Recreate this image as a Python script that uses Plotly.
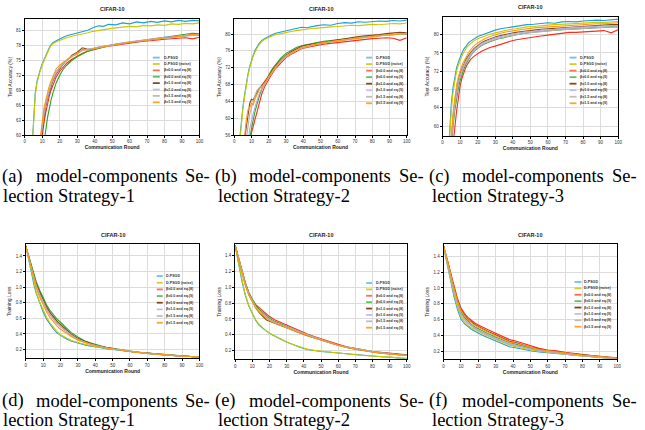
import plotly.graph_objects as go

W, H = 645, 430

# ---------------- data ----------------
ROUNDS_ACC = [2, 4, 5, 6, 7, 8, 9, 10, 11, 12, 13, 14, 15, 16, 18, 20, 22, 24, 27, 30,
              33, 36, 39, 42, 45, 48, 52, 56, 60, 64, 68, 72, 76, 80, 84, 88, 92, 96, 100]
ROUNDS_LOSS = [0, 1, 2, 3, 4, 5, 6, 8, 10, 12, 14, 16, 18, 20, 23, 26, 30, 34, 38, 42, 46, 50,
               55, 60, 65, 70, 75, 80, 85, 90, 95, 100]

SERIES_NAMES = ["D-PSGD", "D-PSGD (noise)", "β=0.0 and eq.(8)", "β=0.0 and eq.(9)",
                "β=1.0 and eq.(8)", "β=1.0 and eq.(9)", "β=1.5 and eq.(8)", "β=1.5 and eq.(9)"]

ACC_TICKS_A = [60, 63, 66, 69, 72, 75, 78, 81]
ACC_TICKS_B = [56, 60, 64, 68, 72, 76, 80]
ACC_TICKS_C = [60, 64, 68, 72, 76, 80]
LOSS_TICKS = [0.2, 0.4, 0.6, 0.8, 1.0, 1.2, 1.4]
ROUND_TICKS = [0, 10, 20, 30, 40, 50, 60, 70, 80, 90, 100]

PANEL_TITLE = "CIFAR-10"
CAPTION_LABELS = ["(a)", "(b)", "(c)", "(d)", "(e)", "(f)"]
CAPTION_STRATEGY = ["lection Strategy-1", "lection Strategy-2", "lection Strategy-3",
                    "lection Strategy-1", "lection Strategy-2", "lection Strategy-3"]

# (a) test accuracy, strategy 1
a_dpsgd = [45, 58, 63, 68.5, 70.8, 72.2, 73.3, 74.3, 75.2, 76.0, 76.8, 77.5, 78.1, 78.5, 78.9, 79.3, 79.6, 79.9, 80.2, 80.4,
           80.7, 81.0, 81.5, 81.9, 81.8, 82.2, 82.1, 82.5, 82.3, 82.7, 82.5, 82.8, 82.6, 82.9, 82.7, 83.0, 82.8, 83.0, 82.9]
a_noise = [45, 57.5, 62.5, 68, 70.5, 72, 73.1, 74.1, 75, 75.8, 76.6, 77.3, 77.9, 78.3, 78.7, 79, 79.3, 79.5, 79.8, 80,
           80.3, 80.5, 80.8, 81, 81.2, 81.3, 81.5, 81.6, 81.8, 81.7, 82, 81.9, 82.1, 82, 82.3, 82.2, 82.4, 82.3, 82.5]
a_b0e8 = [30, 40, 44, 48, 51, 54, 57, 60, 62.5, 64.5, 66.3, 67.8, 69, 70, 71.7, 72.8, 73.7, 74.4, 75.2, 75.8,
          76.4, 76.8, 77.1, 77.4, 77.6, 77.8, 78, 78.3, 78.4, 78.6, 78.8, 78.9, 79.1, 79.2, 79.3, 79.4, 79.5, 79.3, 79.6]
a_b0e9 = [28, 37, 41, 45, 48, 51, 54, 56.5, 58.5, 61, 63.5, 65.5, 67, 68.3, 70.5, 72, 73.2, 74, 75, 75.7,
          76.3, 76.8, 77.1, 77.4, 77.7, 77.9, 78.2, 78.4, 78.7, 78.9, 79.1, 79.3, 79.5, 79.7, 79.9, 80, 80.2, 80.4, 80.3]
a_b1e8 = [32, 42, 46, 50, 53, 56, 58.5, 61.5, 64, 65.8, 67.3, 68.6, 69.8, 70.8, 72.3, 73.3, 74.2, 75, 76, 76.6,
          77.5, 77.2, 77.3, 77.6, 77.8, 78, 78.2, 78.4, 78.6, 78.8, 79, 79.2, 79.3, 79.5, 79.6, 79.8, 79.9, 80.1, 80.1]
a_b1e9 = [32, 42, 46, 50, 53, 56, 59, 62, 64.5, 66.2, 67.7, 69, 70.1, 71, 72.5, 73.5, 74.3, 75, 75.8, 76.4,
          77, 77.2, 77.4, 77.6, 77.9, 78.1, 78.3, 78.5, 78.7, 78.9, 79.1, 79.3, 79.4, 79.6, 79.7, 79.9, 80, 80.1, 80.2]
a_b15e8 = [33, 43, 47, 51, 54, 57, 59.5, 62.5, 64.8, 66.5, 68, 69.3, 70.5, 71.4, 72.8, 73.7, 74.4, 75, 75.8, 76.3,
           77, 77.1, 77.3, 77.5, 77.7, 77.9, 78.1, 78.4, 78.6, 78.8, 79, 79.1, 79.3, 79.4, 79.6, 79.7, 79.8, 80, 80.1]
a_b15e9 = [34, 45, 48, 51, 54, 57, 60, 63, 65.5, 67, 68.5, 69.8, 70.8, 71.6, 73.3, 74, 74.6, 75, 75.8, 76.2,
           77.2, 77, 77.3, 77.5, 77.7, 77.9, 78.1, 78.3, 78.6, 78.7, 78.9, 79.2, 79.3, 79.5, 79.6, 79.7, 79.9, 80.2, 80]

# (b) test accuracy, strategy 2
b_dpsgd = [50, 59.5, 62.5, 65.5, 68.3, 70.5, 72.3, 73.8, 75, 76, 76.8, 77.5, 78, 78.5, 79, 79.5, 79.8, 80.2, 80.5, 80.8,
           81, 81.3, 81.6, 81.5, 81.8, 82, 82.2, 82.1, 82.5, 82.7, 82.6, 82.9, 82.8, 83, 83.1, 83, 83.2, 83.1, 83.3]
b_noise = [49, 59, 62, 65, 68, 70.2, 72, 73.5, 74.7, 75.7, 76.5, 77.2, 77.7, 78.2, 78.8, 79.2, 79.5, 79.9, 80.1, 80.4,
           80.6, 80.8, 81, 81.1, 81.3, 81.4, 81.6, 81.7, 81.8, 82, 82.1, 82, 82.2, 82.3, 82.2, 82.4, 82.5, 82.4, 82.6]
b_b0e8 = [35, 45, 48, 50, 52, 53, 54, 56.5, 58, 59.5, 61.5, 63, 64.5, 65.8, 67.8, 69.3, 70.6, 71.8, 73.2, 74.4,
          75.2, 75.9, 76.5, 76.8, 77.1, 77.3, 77.6, 77.8, 78, 78.2, 78.4, 78.6, 78.7, 78.9, 79, 79.1, 79, 78.5, 79.1]
b_b0e9 = [36, 46, 49, 51, 53, 54, 55, 57.5, 60, 61.5, 63, 64.5, 65.8, 66.8, 68.6, 70.2, 71.7, 72.8, 74.3, 75.4,
          76.2, 76.8, 77.2, 77.5, 77.8, 78, 78.3, 78.5, 78.7, 78.9, 79.1, 79.3, 79.4, 79.6, 79.7, 79.8, 79.8, 79.9, 80]
b_b1e8 = [40, 49, 52, 55, 58, 61, 63.5, 64.5, 64.3, 65.2, 66, 66.8, 67.3, 67.8, 68.8, 70, 71.3, 72.5, 73.9, 75,
          75.8, 76.5, 77.1, 77.4, 77.6, 77.9, 78.2, 78.4, 78.7, 78.9, 79.2, 79.4, 79.6, 79.7, 79.9, 80.1, 80.2, 80.4, 80.3]
b_b1e9 = [36, 45, 48, 50, 52, 54, 57.5, 59.5, 61, 62.5, 64, 65.2, 66.3, 67, 68.3, 69.6, 70.9, 72, 73.5, 74.6,
          75.4, 76.1, 76.6, 77, 77.3, 77.6, 77.9, 78.1, 78.4, 78.6, 78.9, 79.1, 79.3, 79.4, 79.6, 79.7, 79.9, 80, 80.1]
b_b15e8 = [38, 47, 50, 53, 55, 58.5, 61, 62.5, 64, 65.5, 66.5, 67, 67.5, 67.3, 68.5, 69.8, 71, 72.2, 73.6, 74.8,
           75.5, 76.2, 76.7, 77, 77.3, 77.6, 77.9, 78.1, 78.4, 78.6, 78.8, 79, 79.2, 79.4, 79.5, 79.7, 79.8, 80, 80]
b_b15e9 = [40, 48, 52, 56, 59.5, 62, 62.5, 63.5, 63.2, 64.5, 65.5, 66.5, 67.2, 67.5, 68.5, 69.8, 71, 72.2, 73.6, 74.8,
           75.5, 76.2, 76.8, 77, 77.4, 77.6, 78, 78.2, 78.4, 78.6, 78.9, 79.1, 79.3, 79.4, 79.6, 79.8, 79.9, 80, 80.1]

# (c) test accuracy, strategy 3
c_dpsgd = [45, 59, 65, 68.5, 71, 72.8, 74, 75.1, 76, 76.8, 77.4, 77.9, 78.3, 78.6, 79.2, 79.6, 79.9, 80.2, 80.6, 81,
           81.3, 81.5, 81.7, 81.8, 82.1, 82.2, 82.3, 82.4, 82.6, 82.5, 82.8, 82.9, 82.8, 83, 83.1, 83.2, 83.1, 83.3, 83.4]
c_noise = [44, 58, 63.5, 67.5, 70.2, 72, 73.3, 74.4, 75.3, 76.1, 76.8, 77.3, 77.7, 78.1, 78.7, 79.1, 79.4, 79.7, 80.1, 80.4,
           80.7, 81, 81.2, 81.3, 81.5, 81.7, 81.8, 82, 82.1, 82.2, 82.3, 82.4, 82.5, 82.5, 82.6, 82.7, 82.7, 82.8, 82.9]
c_b0e8 = [35, 48, 52, 56, 60, 63.3, 66, 68.8, 70.4, 71.6, 72.6, 73.4, 74.1, 74.6, 75.3, 75.9, 76.3, 76.7, 77.2, 77.5,
          77.9, 78.3, 78.6, 78.9, 79.1, 79.3, 79.5, 79.7, 79.9, 80.1, 80.3, 80.5, 80.5, 80.6, 80.8, 80.9, 80.9, 80.4, 81.1]
c_b0e9 = [38, 50, 55, 60, 63.5, 66.2, 68.3, 70, 71.3, 72.4, 73.3, 74.1, 74.8, 75.4, 76.4, 77.1, 77.6, 78, 78.5, 78.9,
          79.2, 79.5, 79.8, 80, 80.2, 80.4, 80.6, 80.7, 80.9, 81, 81.1, 81.2, 81.3, 81.4, 81.5, 81.6, 81.6, 81.7, 81.7]
c_b1e8 = [40, 52, 57, 62, 65.5, 68, 70, 71.5, 72.6, 73.5, 74.3, 75, 75.6, 76.1, 77, 77.7, 78.2, 78.6, 79.1, 79.5,
          79.8, 80.1, 80.3, 80.5, 80.7, 80.9, 81, 81.2, 81.3, 81.4, 81.6, 81.7, 81.8, 81.9, 82, 82, 82.1, 82.2, 82.2]
c_b1e9 = [40, 51.5, 56.5, 61.5, 65, 67.6, 69.6, 71.1, 72.3, 73.2, 74, 74.7, 75.3, 75.8, 76.8, 77.5, 78, 78.4, 78.9, 79.3,
          79.6, 79.9, 80.1, 80.3, 80.5, 80.7, 80.8, 81, 81.1, 81.2, 81.4, 81.5, 81.6, 81.7, 81.8, 81.8, 81.9, 82, 82]
c_b15e8 = [40, 51, 56, 61, 64.5, 67.2, 69.2, 70.8, 72, 72.9, 73.7, 74.4, 75, 75.5, 76.5, 77.2, 77.7, 78.1, 78.6, 79,
           79.3, 79.6, 79.8, 80, 80.2, 80.4, 80.5, 80.7, 80.8, 81, 81.1, 81.2, 81.3, 81.4, 81.5, 81.6, 81.6, 81.7, 81.8]
c_b15e9 = [40, 53, 58, 63, 66.5, 69, 70.8, 72.1, 73.2, 74.1, 74.9, 75.6, 76.2, 76.7, 77.6, 78.2, 78.7, 79.1, 79.6, 80,
           80.3, 80.6, 80.8, 81, 81.2, 81.3, 81.5, 81.6, 81.7, 81.9, 82, 82.1, 82.2, 82.2, 82.3, 82.4, 82.4, 82.5, 82.6]

# (d) training loss, strategy 1
d_dpsgd = [1.53, 1.42, 1.30, 1.19, 1.09, 1.00, 0.92, 0.79, 0.68, 0.59, 0.52, 0.46, 0.41, 0.38, 0.34, 0.31,
           0.28, 0.26, 0.24, 0.23, 0.21, 0.20, 0.185, 0.17, 0.16, 0.15, 0.14, 0.13, 0.125, 0.115, 0.11, 0.10]
d_noise = [1.53, 1.43, 1.32, 1.21, 1.11, 1.02, 0.94, 0.81, 0.70, 0.61, 0.54, 0.48, 0.43, 0.39, 0.35, 0.32,
           0.29, 0.265, 0.245, 0.23, 0.215, 0.20, 0.19, 0.175, 0.16, 0.15, 0.14, 0.135, 0.125, 0.12, 0.11, 0.10]
d_b0e8 = [1.52, 1.44, 1.35, 1.27, 1.19, 1.12, 1.05, 0.94, 0.84, 0.75, 0.67, 0.61, 0.56, 0.52, 0.46, 0.40,
          0.34, 0.30, 0.27, 0.245, 0.225, 0.21, 0.19, 0.175, 0.165, 0.15, 0.14, 0.13, 0.125, 0.115, 0.11, 0.10]
d_b0e9 = [1.53, 1.45, 1.36, 1.28, 1.20, 1.13, 1.07, 0.96, 0.86, 0.77, 0.70, 0.64, 0.59, 0.55, 0.48, 0.42,
          0.36, 0.31, 0.28, 0.25, 0.23, 0.215, 0.195, 0.18, 0.165, 0.155, 0.145, 0.135, 0.125, 0.12, 0.11, 0.10]
d_b1e8 = [1.52, 1.44, 1.35, 1.26, 1.18, 1.11, 1.04, 0.93, 0.83, 0.74, 0.67, 0.61, 0.56, 0.52, 0.46, 0.40,
          0.34, 0.30, 0.27, 0.245, 0.225, 0.21, 0.19, 0.175, 0.16, 0.15, 0.14, 0.13, 0.125, 0.115, 0.11, 0.10]
d_b1e9 = [1.52, 1.43, 1.34, 1.25, 1.17, 1.09, 1.02, 0.91, 0.81, 0.72, 0.65, 0.59, 0.54, 0.50, 0.44, 0.39,
          0.33, 0.29, 0.265, 0.24, 0.22, 0.205, 0.19, 0.175, 0.16, 0.15, 0.14, 0.13, 0.12, 0.115, 0.11, 0.10]
d_b15e8 = [1.52, 1.43, 1.34, 1.25, 1.16, 1.08, 1.01, 0.90, 0.80, 0.71, 0.64, 0.58, 0.53, 0.49, 0.43, 0.38,
           0.33, 0.29, 0.26, 0.24, 0.22, 0.205, 0.19, 0.175, 0.16, 0.15, 0.14, 0.13, 0.12, 0.115, 0.11, 0.10]
d_b15e9 = [1.52, 1.43, 1.33, 1.24, 1.15, 1.07, 0.99, 0.87, 0.77, 0.68, 0.61, 0.55, 0.50, 0.46, 0.41, 0.37,
           0.32, 0.285, 0.26, 0.235, 0.22, 0.205, 0.19, 0.175, 0.16, 0.15, 0.14, 0.13, 0.12, 0.115, 0.11, 0.10]

# (e) training loss, strategy 2
e_dpsgd = [1.52, 1.40, 1.28, 1.17, 1.07, 0.98, 0.89, 0.76, 0.66, 0.58, 0.52, 0.48, 0.45, 0.42, 0.38, 0.35,
           0.31, 0.27, 0.24, 0.215, 0.20, 0.19, 0.18, 0.17, 0.16, 0.15, 0.14, 0.13, 0.125, 0.12, 0.11, 0.10]
e_noise = [1.52, 1.41, 1.29, 1.18, 1.08, 0.99, 0.90, 0.77, 0.67, 0.59, 0.53, 0.485, 0.45, 0.42, 0.385, 0.355,
           0.31, 0.275, 0.245, 0.22, 0.205, 0.195, 0.18, 0.17, 0.16, 0.15, 0.14, 0.135, 0.125, 0.12, 0.11, 0.105]
e_b0e8 = [1.53, 1.45, 1.37, 1.28, 1.20, 1.12, 1.05, 0.93, 0.84, 0.78, 0.74, 0.70, 0.66, 0.63, 0.59, 0.56,
          0.52, 0.48, 0.44, 0.41, 0.38, 0.35, 0.31, 0.28, 0.25, 0.23, 0.21, 0.19, 0.18, 0.17, 0.16, 0.15]
e_b0e9 = [1.53, 1.45, 1.36, 1.28, 1.20, 1.12, 1.05, 0.93, 0.84, 0.77, 0.72, 0.68, 0.645, 0.61, 0.57, 0.54,
          0.50, 0.46, 0.43, 0.40, 0.37, 0.34, 0.30, 0.27, 0.245, 0.225, 0.205, 0.19, 0.175, 0.165, 0.155, 0.145]
e_b1e8 = [1.52, 1.43, 1.34, 1.25, 1.17, 1.09, 1.02, 0.90, 0.81, 0.74, 0.68, 0.63, 0.59, 0.57, 0.54, 0.52,
          0.49, 0.45, 0.42, 0.39, 0.36, 0.33, 0.30, 0.27, 0.24, 0.22, 0.20, 0.185, 0.17, 0.16, 0.15, 0.14]
e_b1e9 = [1.52, 1.44, 1.35, 1.26, 1.18, 1.10, 1.03, 0.91, 0.82, 0.75, 0.70, 0.66, 0.62, 0.59, 0.555, 0.53,
          0.50, 0.46, 0.43, 0.40, 0.37, 0.34, 0.30, 0.27, 0.245, 0.225, 0.205, 0.19, 0.175, 0.16, 0.15, 0.14]
e_b15e8 = [1.52, 1.44, 1.35, 1.26, 1.18, 1.10, 1.03, 0.91, 0.82, 0.75, 0.70, 0.66, 0.62, 0.59, 0.56, 0.53,
           0.50, 0.46, 0.43, 0.40, 0.37, 0.34, 0.30, 0.27, 0.245, 0.225, 0.205, 0.19, 0.175, 0.16, 0.15, 0.14]
e_b15e9 = [1.52, 1.43, 1.35, 1.26, 1.17, 1.09, 1.02, 0.90, 0.81, 0.74, 0.69, 0.65, 0.61, 0.58, 0.55, 0.52,
           0.49, 0.455, 0.42, 0.39, 0.36, 0.335, 0.30, 0.27, 0.24, 0.22, 0.20, 0.185, 0.17, 0.16, 0.15, 0.14]

# (f) training loss, strategy 3
f_dpsgd = [1.52, 1.42, 1.32, 1.21, 1.09, 0.98, 0.89, 0.73, 0.61, 0.55, 0.51, 0.48, 0.455, 0.43, 0.40, 0.37,
           0.33, 0.29, 0.26, 0.245, 0.225, 0.21, 0.195, 0.185, 0.17, 0.16, 0.15, 0.14, 0.13, 0.125, 0.115, 0.11]
f_noise = [1.52, 1.43, 1.33, 1.23, 1.12, 1.01, 0.92, 0.76, 0.64, 0.575, 0.53, 0.50, 0.475, 0.45, 0.42, 0.39,
           0.35, 0.31, 0.28, 0.26, 0.24, 0.22, 0.205, 0.19, 0.175, 0.165, 0.155, 0.145, 0.135, 0.125, 0.12, 0.11]
f_b0e8 = [1.53, 1.46, 1.38, 1.29, 1.20, 1.11, 1.02, 0.87, 0.75, 0.68, 0.63, 0.59, 0.56, 0.535, 0.50, 0.47,
          0.43, 0.39, 0.35, 0.33, 0.30, 0.27, 0.24, 0.22, 0.21, 0.19, 0.175, 0.165, 0.15, 0.14, 0.13, 0.12]
f_b0e9 = [1.53, 1.45, 1.36, 1.27, 1.17, 1.07, 0.98, 0.82, 0.70, 0.63, 0.58, 0.54, 0.51, 0.485, 0.45, 0.42,
          0.38, 0.34, 0.31, 0.29, 0.26, 0.24, 0.22, 0.20, 0.19, 0.175, 0.16, 0.15, 0.14, 0.13, 0.125, 0.115]
f_b1e8 = [1.53, 1.45, 1.37, 1.28, 1.19, 1.09, 1.00, 0.85, 0.73, 0.66, 0.61, 0.57, 0.54, 0.515, 0.48, 0.45,
          0.41, 0.37, 0.33, 0.31, 0.28, 0.255, 0.23, 0.21, 0.20, 0.18, 0.17, 0.16, 0.145, 0.135, 0.13, 0.115]
f_b1e9 = [1.53, 1.44, 1.35, 1.25, 1.15, 1.05, 0.96, 0.80, 0.68, 0.61, 0.565, 0.53, 0.50, 0.475, 0.44, 0.41,
          0.37, 0.33, 0.30, 0.28, 0.255, 0.235, 0.215, 0.20, 0.185, 0.17, 0.16, 0.15, 0.14, 0.13, 0.12, 0.115]
f_b15e8 = [1.53, 1.44, 1.34, 1.24, 1.14, 1.04, 0.95, 0.79, 0.67, 0.60, 0.555, 0.52, 0.49, 0.465, 0.43, 0.40,
           0.36, 0.32, 0.29, 0.27, 0.25, 0.23, 0.21, 0.195, 0.18, 0.17, 0.155, 0.145, 0.135, 0.125, 0.12, 0.11]
f_b15e9 = [1.53, 1.45, 1.37, 1.28, 1.18, 1.08, 0.99, 0.84, 0.72, 0.65, 0.60, 0.56, 0.53, 0.505, 0.47, 0.44,
           0.40, 0.36, 0.32, 0.30, 0.275, 0.25, 0.225, 0.21, 0.195, 0.18, 0.165, 0.155, 0.145, 0.135, 0.125, 0.115]

# ---------------- style ----------------
COLORS = ["#1f9fd4", "#c9c900", "#ff2a18", "#22a822", "#8b4513", "#b9a6e2", "#b0b0b0", "#ff9a10"]
LEGEND_COLORS = ["#6cc3ea", "#cfcf2a", "#ff6a5a", "#5cc45c", "#8b4513", "#c9bbea", "#bdbdbd", "#ffa526"]
SANS = "Liberation Sans"
SERIF = "Liberation Serif"
GRID = "#dcdcdc"
CAP_SIZE = 18.5

panels = [
    dict(x=ROUNDS_ACC, ys=[a_dpsgd, a_noise, a_b0e8, a_b0e9, a_b1e8, a_b1e9, a_b15e8, a_b15e9],
         rng=[60, 83.3], ticks=ACC_TICKS_A, fmt="d", ytitle="Test Accuracy (%)",
         box=(24, 200, 19, 136), leg=(153, 160, 163, 58, 103)),
    dict(x=ROUNDS_ACC, ys=[b_dpsgd, b_noise, b_b0e8, b_b0e9, b_b1e8, b_b1e9, b_b15e8, b_b15e9],
         rng=[56, 83.6], ticks=ACC_TICKS_B, fmt="d", ytitle="Test Accuracy (%)",
         box=(235, 409, 19, 136), leg=(368, 374, 377, 58, 104)),
    dict(x=ROUNDS_ACC, ys=[c_dpsgd, c_noise, c_b0e8, c_b0e9, c_b1e8, c_b1e9, c_b15e8, c_b15e9],
         rng=[57.8, 83.9], ticks=ACC_TICKS_C, fmt="d", ytitle="Test Accuracy (%)",
         box=(445, 622, 17, 137), leg=(573, 580, 583, 58, 104)),
    dict(x=ROUNDS_LOSS, ys=[d_dpsgd, d_noise, d_b0e8, d_b0e9, d_b1e8, d_b1e9, d_b15e8, d_b15e9],
         rng=[0.085, 1.55], ticks=LOSS_TICKS, fmt=".1f", ytitle="Training Loss",
         box=(25, 200, 246, 361), leg=(157, 163, 165, 278, 325)),
    dict(x=ROUNDS_LOSS, ys=[e_dpsgd, e_noise, e_b0e8, e_b0e9, e_b1e8, e_b1e9, e_b15e8, e_b15e9],
         rng=[0.09, 1.54], ticks=LOSS_TICKS, fmt=".1f", ytitle="Training Loss",
         box=(236, 409, 246, 362), leg=(368, 374, 377, 285, 330)),
    dict(x=ROUNDS_LOSS, ys=[f_dpsgd, f_noise, f_b0e8, f_b0e9, f_b1e8, f_b1e9, f_b15e8, f_b15e9],
         rng=[0.10, 1.55], ticks=LOSS_TICKS, fmt=".1f", ytitle="Training Loss",
         box=(446, 621, 246, 362), leg=(578, 585, 587, 284, 329)),
]


def PX(v):
    return v / W


def PY(v):
    return 1 - v / H


fig = go.Figure()
layout = dict(width=W, height=H, margin=dict(l=0, r=0, t=0, b=0),
              paper_bgcolor="white", plot_bgcolor="white", showlegend=False)
annotations = []
shapes = []

for i, p in enumerate(panels, start=1):
    xs = "x" if i == 1 else f"x{i}"
    ys_ = "y" if i == 1 else f"y{i}"
    for k, yv in enumerate(p["ys"]):
        fig.add_trace(go.Scatter(x=p["x"], y=yv, mode="lines", xaxis=xs, yaxis=ys_,
                                 line=dict(color=COLORS[k], width=1.1), name=SERIES_NAMES[k],
                                 hoverinfo="skip"))
    x0, x1, y0, y1 = p["box"]
    common = dict(showgrid=True, gridcolor=GRID, gridwidth=1, showline=True, linecolor="black",
                  linewidth=1, mirror=True, ticks="outside", ticklen=2, tickwidth=0.8,
                  tickcolor="black", zeroline=False,
                  tickfont=dict(size=4.5, family=SANS, color="#333"))
    layout["xaxis" if i == 1 else f"xaxis{i}"] = dict(
        domain=[PX(x0), PX(x1)], anchor=ys_, range=[0, 100], tickvals=ROUND_TICKS,
        title=dict(text="<b>Communication Round</b>", font=dict(size=5, family=SANS, color="#222"),
                   standoff=1), **common)
    layout["yaxis" if i == 1 else f"yaxis{i}"] = dict(
        domain=[PY(y1), PY(y0)], anchor=xs, range=p["rng"], tickvals=p["ticks"], tickformat=p["fmt"],
        title=dict(text=p["ytitle"], font=dict(size=5, family=SANS, color="#222"), standoff=3),
        **common)
    # panel title
    annotations.append(dict(text=f"<b>{PANEL_TITLE}</b>", x=PX((x0 + x1) / 2), y=PY(y0 - 9.5),
                            xref="paper", yref="paper", showarrow=False, xanchor="center",
                            yanchor="middle", font=dict(size=5.5, family=SANS, color="#222")))
    # legend
    lx0, lx1, tx, ly0, ly1 = p["leg"]
    step = (ly1 - ly0) / 7
    for k, name in enumerate(SERIES_NAMES):
        yy = ly0 + k * step
        shapes.append(dict(type="line", xref="paper", yref="paper", x0=PX(lx0), x1=PX(lx1),
                           y0=PY(yy), y1=PY(yy), line=dict(color=LEGEND_COLORS[k], width=1.8)))
        annotations.append(dict(text=f"<b>{name}</b>", x=PX(tx), y=PY(yy), xref="paper", yref="paper",
                                showarrow=False, xanchor="left", yanchor="middle", borderpad=0,
                                font=dict(size=3.6, family=SANS, color="#333")))

# captions
col_x = [0, 215, 430]
for i in range(6):
    c = col_x[i % 3]
    base = 177.5 if i < 3 else 403.5
    cap_font = dict(size=CAP_SIZE, family=SERIF, color="black")
    common_cap = dict(xref="paper", yref="paper", showarrow=False, yanchor="middle",
                      borderpad=0, font=cap_font)
    annotations.append(dict(text=CAPTION_LABELS[i], x=PX(c), y=PY(base), xanchor="left", **common_cap))
    annotations.append(dict(text="model-components", x=PX(c + 34), y=PY(base), xanchor="left",
                            **common_cap))
    annotations.append(dict(text="Se-", x=PX(c + 212), y=PY(base), xanchor="right", **common_cap))
    annotations.append(dict(text=CAPTION_STRATEGY[i], x=PX(c + (1 if i % 3 == 0 else 3)),
                            y=PY(base + 19.5), xanchor="left", **common_cap))

layout["annotations"] = annotations
layout["shapes"] = shapes
fig.update_layout(**layout)
fig.write_html("out.html", config={"displayModeBar": False},
               post_script="document.body.style.margin='0';document.body.style.overflow='hidden';")
